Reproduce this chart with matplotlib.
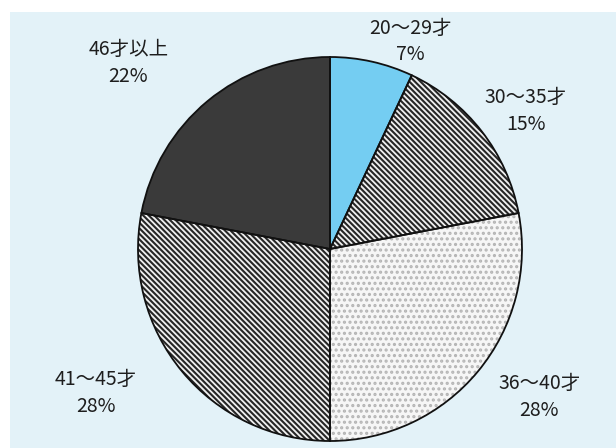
import matplotlib.pyplot as plt
from matplotlib.patches import Rectangle

plt.rcParams['font.family'] = ['Noto Sans CJK JP', 'DejaVu Sans']
plt.rcParams['hatch.linewidth'] = 1.5

# 年齢構成
labels = ["20～29才", "30～35才", "36～40才", "41～45才", "46才以上"]
shares = [7, 15, 28, 28, 22]

faces = ["#74cdf2", "#f0f0f0", "#f6f6f6", "#f0f0f0", "#3a3a3a"]
hatches = [None, "\\" * 6, "...", "\\" * 6, None]
hatch_cols = ["#74cdf2", "#262626", "#b4b4b4", "#262626", "#3a3a3a"]
# ラベル位置 (半径1の座標系)
label_pos = [(0.42, 1.08), (1.02, 0.72), (1.09, -0.77), (-1.22, -0.75), (-1.05, 0.97)]

W, H = 616, 448
cx, cy, r_px = 330, 249, 192

fig = plt.figure(figsize=(W / 100, H / 100), dpi=100)
fig.patch.set_facecolor("white")

ax = fig.add_axes([0, 0, 1, 1])
ax.set_facecolor("none")
# 背景の薄い水色
ax.add_patch(Rectangle((10 / W, 0), 1, (H - 12) / H, transform=ax.transAxes,
                       facecolor="#e3f2f8", edgecolor="none", zorder=-10))

# 塗りとハッチ
wedges, _ = ax.pie(shares, startangle=90, counterclock=False,
                   wedgeprops=dict(linewidth=0))
for w, fc, hc, hcol in zip(wedges, faces, hatches, hatch_cols):
    w.set_facecolor(fc)
    w.set_edgecolor(hcol)
    if hc:
        w.set_hatch(hc)

# 輪郭線
ax.pie(shares, startangle=90, counterclock=False,
       wedgeprops=dict(fill=False, edgecolor="#111111", linewidth=1.3))

for lab, val, (x, y) in zip(labels, shares, label_pos):
    ax.text(x, y, f"{lab}\n{val}%", ha="center", va="center",
            fontsize=14, color="#1e1e1e", linespacing=1.35)

xmin = -cx / r_px
ymax = cy / r_px
ax.set_xlim(xmin, xmin + W / r_px)
ax.set_ylim(ymax - H / r_px, ymax)
ax.set_aspect("equal")
ax.axis("off")

fig.savefig("out.png", dpi=100)
